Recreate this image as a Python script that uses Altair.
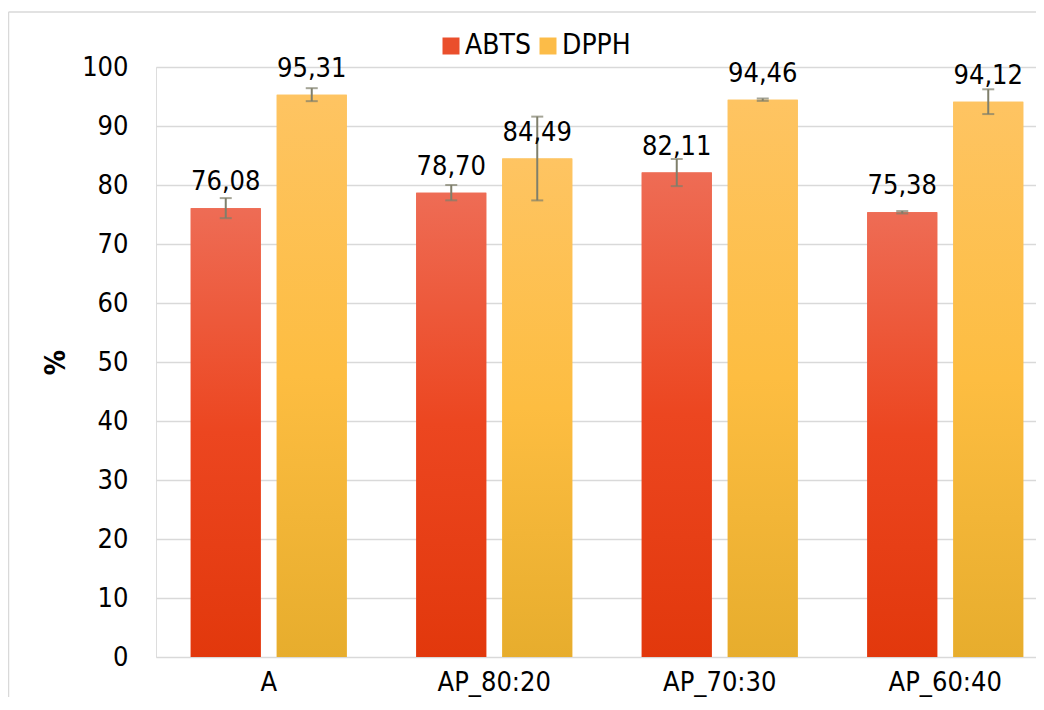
import altair as alt
import pandas as pd

categories = ["A", "AP_80:20", "AP_70:30", "AP_60:40"]
series = ["ABTS", "DPPH"]
abts = [76.08, 78.70, 82.11, 75.38]
dpph = [95.31, 84.49, 94.46, 94.12]
abts_err = [1.7, 1.3, 2.3, 0.2]
dpph_err = [1.1, 7.1, 0.2, 2.1]

rows = []
for i, c in enumerate(categories):
    for s, vals, errs in (("ABTS", abts, abts_err), ("DPPH", dpph, dpph_err)):
        v = vals[i]
        e = errs[i]
        rows.append(dict(cat=c, series=s, value=v, lo=v - e, hi=v + e,
                         label=f"{v:.2f}".replace(".", ",")))
df = pd.DataFrame(rows)

FONT = "DejaVu Sans Condensed, Liberation Sans, sans-serif"
ECOL = "#7f7f6b"
GRID = "#D9D9D9"

grad_a = alt.Gradient(gradient="linear", x1=0, y1=0, x2=0, y2=1, stops=[
    alt.GradientStop(offset=0, color="#EE6C55"),
    alt.GradientStop(offset=0.5, color="#EC4620"),
    alt.GradientStop(offset=1, color="#E2380C")])
grad_d = alt.Gradient(gradient="linear", x1=0, y1=0, x2=0, y2=1, stops=[
    alt.GradientStop(offset=0, color="#FEC462"),
    alt.GradientStop(offset=0.5, color="#FDBD41"),
    alt.GradientStop(offset=1, color="#E7AD2D")])

x = alt.X("cat:N", sort=categories,
          scale=alt.Scale(domain=categories, range=[0, 902], paddingInner=0, paddingOuter=0),
          axis=alt.Axis(title=None, labelAngle=0, labelFontSize=27, labelPadding=12,
                        ticks=False, domain=False, labelColor="black", labelFont=FONT,
                        grid=False))
xo = alt.XOffset("series:N", sort=series,
                 scale=alt.Scale(domain=series, paddingInner=0.186, paddingOuter=0.404))
yscale = alt.Scale(domain=[0, 100], nice=False)
y = alt.Y("value:Q", scale=yscale,
          axis=alt.Axis(title="%", values=list(range(0, 101, 10)), labelFontSize=27,
                        labelPadding=28, ticks=False, domain=False, grid=True,
                        gridColor=GRID, gridWidth=1.5, labelColor="black", labelFont=FONT,
                        titleFont=FONT, titleFontSize=28, titleFontWeight="bold",
                        titleColor="black", titleX=-100, titleY=295, titleAngle=270,
                        titleAlign="center", titleBaseline="middle"))

base = alt.Chart(df).encode(x=x, xOffset=xo)

legend_bars = base.mark_bar().encode(
    y=y,
    color=alt.Color("series:N", sort=series,
                    scale=alt.Scale(domain=series, range=["#EA4F2C", "#FCBC48"]),
                    legend=alt.Legend(title=None, orient="none", legendX=281, legendY=-35,
                                      direction="horizontal", symbolType="square",
                                      symbolSize=289, labelFontSize=28, labelFont=FONT,
                                      labelColor="black", columnPadding=3, labelOffset=0,
                                      symbolStrokeWidth=0, padding=0)))

bars_a = base.transform_filter(alt.datum.series == "ABTS").mark_bar(fill=grad_a).encode(
    y=alt.Y("value:Q", scale=yscale))
bars_d = base.transform_filter(alt.datum.series == "DPPH").mark_bar(fill=grad_d).encode(
    y=alt.Y("value:Q", scale=yscale))

err = base.mark_rule(color=ECOL, strokeWidth=2).encode(y=alt.Y("lo:Q", scale=yscale), y2="hi:Q")
cap_lo = base.mark_tick(color=ECOL, thickness=2, size=12, orient="horizontal").encode(
    y=alt.Y("lo:Q", scale=yscale))
cap_hi = base.mark_tick(color=ECOL, thickness=2, size=12, orient="horizontal").encode(
    y=alt.Y("hi:Q", scale=yscale))

labels = base.mark_text(fontSize=27, font=FONT, dy=-18, baseline="alphabetic",
                        color="black").encode(y=alt.Y("value:Q", scale=yscale), text="label:N")

bdata = alt.Data(values=[{"k": 1}])
left_border = alt.Chart(bdata).mark_rule(color=GRID, strokeWidth=1.5).encode(
    x=alt.value(-147.5), y=alt.value(-55), y2=alt.value(700))
top_border = alt.Chart(bdata).mark_rule(color=GRID, strokeWidth=1.5).encode(
    x=alt.value(-147.5), x2=alt.value(880), y=alt.value(-55))

chart = alt.layer(legend_bars, bars_a, bars_d, err, cap_lo, cap_hi, labels,
                  left_border, top_border).properties(
    width=880, height=590,
    autosize=alt.AutoSizeParams(type="none"),
    padding={"left": 148, "top": 59, "right": 0, "bottom": 40},
).configure_view(stroke=None).configure(font=FONT)

chart.save("out.html", embed_options={"renderer": "svg", "actions": False})
